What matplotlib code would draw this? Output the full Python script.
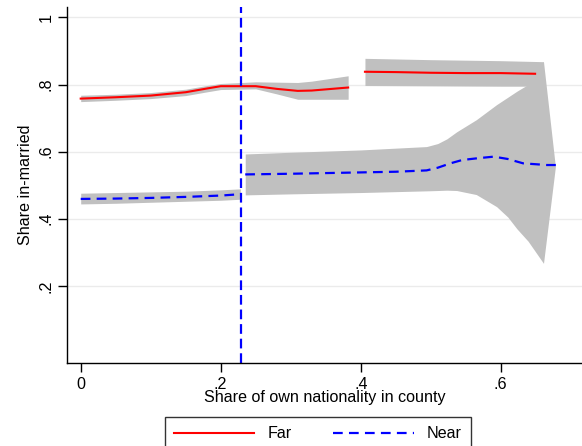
import numpy as np
import matplotlib
matplotlib.use("Agg")
import matplotlib.pyplot as plt

plt.rcParams['font.family'] = ['Liberation Sans', 'DejaVu Sans']
plt.rcParams['lines.scale_dashes'] = False

# Far: two local fits with CI bands
far1_x = [0.0, 0.05, 0.1, 0.15, 0.18, 0.2, 0.25, 0.28, 0.31, 0.33, 0.382]
far1_y = [0.758, 0.762, 0.767, 0.777, 0.788, 0.795, 0.795, 0.787, 0.781, 0.782, 0.791]
far1_lo = [0.749, 0.753, 0.758, 0.767, 0.778, 0.785, 0.787, 0.772, 0.756, 0.756, 0.756]
far1_hi = [0.768, 0.771, 0.776, 0.786, 0.797, 0.803, 0.808, 0.807, 0.806, 0.81, 0.826]

far2_x = [0.406, 0.45, 0.5, 0.55, 0.6, 0.649]
far2_y = [0.838, 0.837, 0.835, 0.834, 0.834, 0.832]
far2_band_x = [0.406, 0.5, 0.6, 0.661]
far2_lo = [0.797, 0.796, 0.795, 0.795]
far2_hi = [0.878, 0.874, 0.871, 0.868]

# Near
near1_x = [0.0, 0.05, 0.1, 0.15, 0.2, 0.228]
near1_y = [0.459, 0.460, 0.462, 0.465, 0.469, 0.473]
near1_lo = [0.444, 0.446, 0.449, 0.452, 0.455, 0.458]
near1_hi = [0.476, 0.478, 0.480, 0.482, 0.486, 0.489]

near2_x = [0.235, 0.3, 0.4, 0.45, 0.494, 0.51, 0.528, 0.545, 0.566, 0.59, 0.61, 0.632, 0.666, 0.686]
near2_y = [0.532, 0.534, 0.538, 0.540, 0.544, 0.552, 0.565, 0.575, 0.580, 0.585, 0.578, 0.565, 0.560, 0.560]
near2_band_x = [0.235, 0.3, 0.4, 0.494, 0.51, 0.523, 0.537, 0.565, 0.594, 0.61, 0.623, 0.639, 0.661, 0.678]
near2_lo = [0.471, 0.474, 0.478, 0.483, 0.484, 0.485, 0.484, 0.472, 0.436, 0.405, 0.370, 0.333, 0.267, 0.555]
near2_hi = [0.593, 0.598, 0.605, 0.615, 0.624, 0.638, 0.659, 0.695, 0.740, 0.762, 0.780, 0.800, 0.868, 0.555]

cutoff = 0.229

xticks = [0, 0.2, 0.4, 0.6]
xticklabels = ['0', '.2', '.4', '.6']
yticks = [0.2, 0.4, 0.6, 0.8, 1.0]
yticklabels = ['.2', '.4', '.6', '.8', '1']

fs = 11.6
band = '#c0c0c0'
fig = plt.figure(figsize=(5.82, 4.46), dpi=100)
ax = fig.add_axes([0.1146, 0.1854, 0.8854, 0.7989])

ax.fill_between(far1_x, far1_lo, far1_hi, color=band, lw=0)
ax.fill_between(far2_band_x, far2_lo, far2_hi, color=band, lw=0)
ax.fill_between(near1_x, near1_lo, near1_hi, color=band, lw=0)
ax.fill_between(near2_band_x, near2_lo, near2_hi, color=band, lw=0)

ax.plot(far1_x, far1_y, color='red', lw=1.5, label='Far')
ax.plot(far2_x, far2_y, color='red', lw=1.5)
ax.plot(near1_x, near1_y, color='blue', lw=1.6, dashes=(7, 4.5), label='Near')
ax.plot(near2_x, near2_y, color='blue', lw=1.6, dashes=(7, 4.5))
ax.axvline(cutoff, color='blue', lw=1.6, dashes=(7, 3.5))

ax.set_xlim(-0.02, 0.716)
ax.set_ylim(-0.031, 1.031)
ax.set_xticks(xticks)
ax.set_xticklabels(xticklabels, fontsize=fs)
ax.set_yticks(yticks)
ax.set_yticklabels(yticklabels, fontsize=fs, rotation=90, va='center')
ax.tick_params(length=6.5, width=1, direction='out', pad=3)
ax.grid(True, axis='y', color='#ebebeb', lw=1)
ax.set_axisbelow(True)
for s in ['top', 'right']:
    ax.spines[s].set_visible(False)
for s in ['left', 'bottom']:
    ax.spines[s].set_linewidth(1)
ax.set_xlabel('Share of own nationality in county', fontsize=fs, labelpad=-1)
ax.set_ylabel('Share in-married', fontsize=fs, labelpad=4)

leg = fig.legend(loc='upper left', bbox_to_anchor=(0.2835, 1 - 417.3 / 446), ncol=2,
                 fontsize=fs, frameon=True, fancybox=False, edgecolor='black',
                 handlelength=5.0, handletextpad=0.8, columnspacing=2.6,
                 borderpad=0.55, borderaxespad=0)
leg.get_frame().set_linewidth(1)

fig.savefig('out.png', dpi=100)
